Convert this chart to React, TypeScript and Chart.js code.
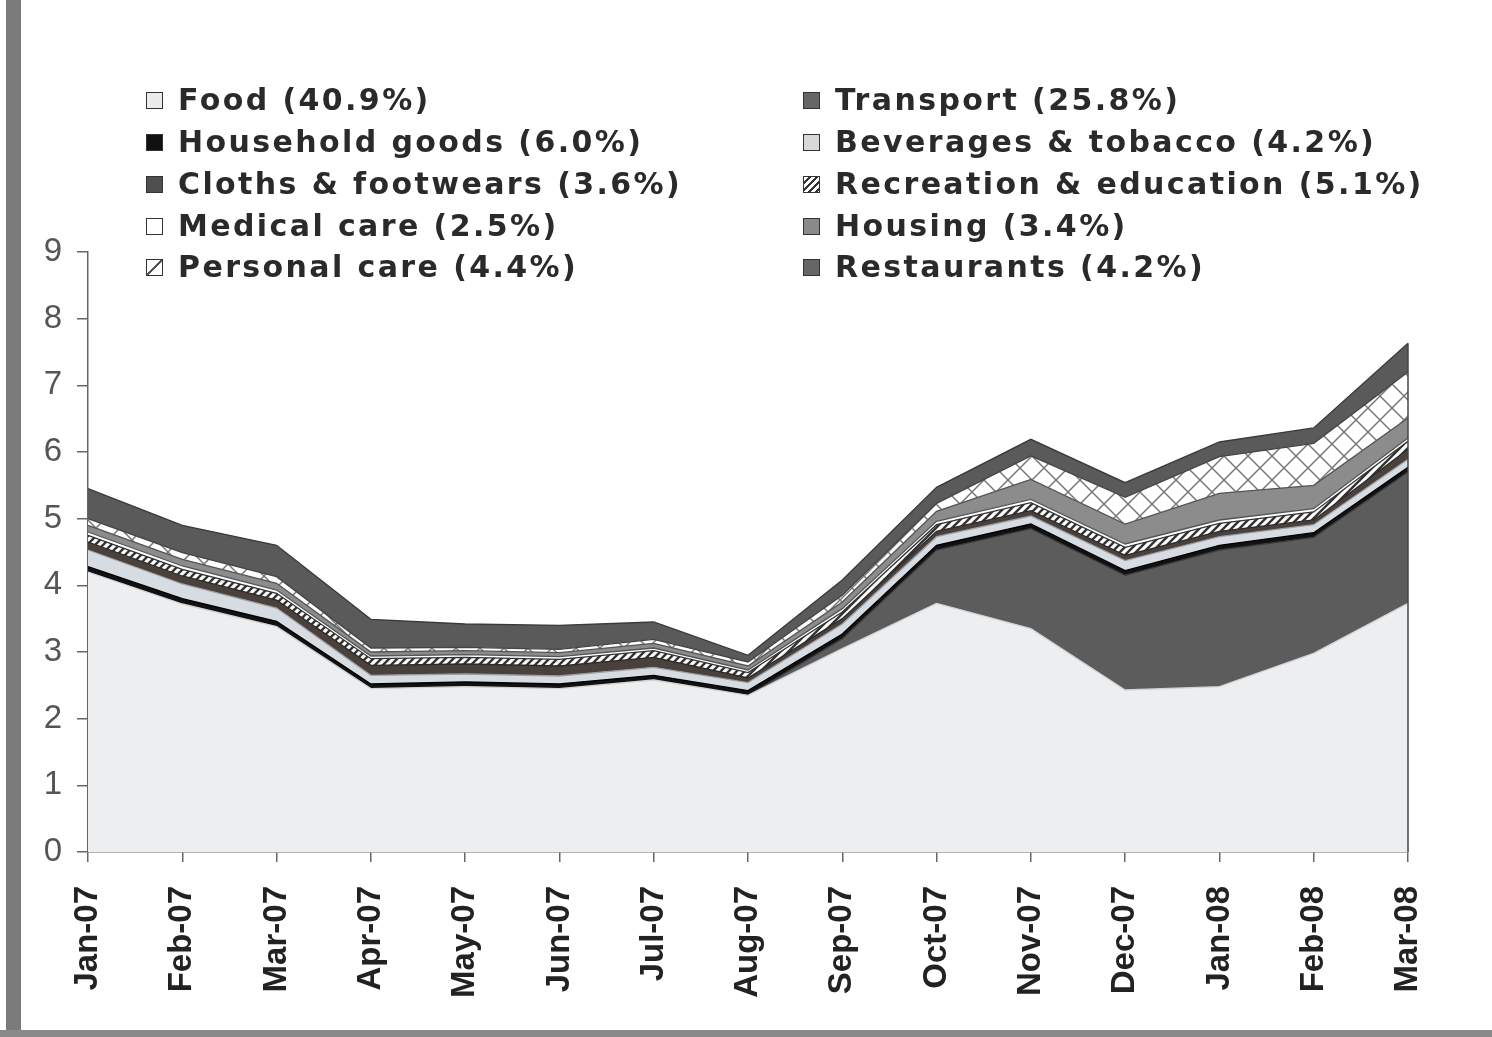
import React, { useEffect, useRef } from 'react';
import { Chart, registerables } from 'chart.js';
Chart.register(...registerables);

const months = ['Jan-07','Feb-07','Mar-07','Apr-07','May-07','Jun-07','Jul-07','Aug-07','Sep-07','Oct-07','Nov-07','Dec-07','Jan-08','Feb-08','Mar-08'];

const food = [4.2, 3.72, 3.38, 2.45, 2.48, 2.45, 2.58, 2.35, 3.05, 3.73, 3.35, 2.43, 2.48, 2.98, 3.73];
const transport = [0, 0, 0, 0, 0, 0, 0, 0, 0.15, 0.8, 1.5, 1.72, 2.05, 1.74, 1.97];
const household = [0.08, 0.08, 0.08, 0.07, 0.07, 0.07, 0.07, 0.07, 0.07, 0.07, 0.07, 0.07, 0.07, 0.07, 0.07];
const beverages = [0.25, 0.22, 0.2, 0.13, 0.12, 0.12, 0.12, 0.12, 0.15, 0.13, 0.12, 0.15, 0.13, 0.12, 0.12];
const cloths = [0.12, 0.12, 0.12, 0.15, 0.15, 0.15, 0.15, 0.07, 0.08, 0.08, 0.08, 0.08, 0.08, 0.07, 0.15];
const recreation = [0.1, 0.1, 0.1, 0.1, 0.1, 0.1, 0.1, 0.08, 0.1, 0.1, 0.12, 0.12, 0.12, 0.12, 0.12];
const medical = [0.05, 0.05, 0.05, 0.04, 0.04, 0.04, 0.04, 0.04, 0.05, 0.05, 0.05, 0.05, 0.05, 0.05, 0.05];
const housing = [0.1, 0.1, 0.1, 0.06, 0.06, 0.06, 0.07, 0.06, 0.1, 0.15, 0.3, 0.3, 0.4, 0.35, 0.3];
const personal = [0.1, 0.1, 0.1, 0.06, 0.05, 0.05, 0.06, 0.06, 0.1, 0.12, 0.35, 0.4, 0.55, 0.63, 0.69];
const restaurants = [0.45, 0.41, 0.47, 0.43, 0.35, 0.36, 0.26, 0.1, 0.23, 0.24, 0.25, 0.22, 0.22, 0.23, 0.43];

const yTicks = [0, 1, 2, 3, 4, 5, 6, 7, 8, 9];

const legendLeft = [
  { label: 'Food (40.9%)', swatch: '#ececec' },
  { label: 'Household goods (6.0%)', swatch: '#111' },
  { label: 'Cloths & footwears (3.6%)', swatch: '#4f4f4f' },
  { label: 'Medical care (2.5%)', swatch: '#fff' },
  { label: 'Personal care (4.4%)', swatch: 'linear-gradient(135deg, #fff 44%, #555 44%, #555 56%, #fff 56%)' },
];
const legendRight = [
  { label: 'Transport (25.8%)', swatch: '#666' },
  { label: 'Beverages & tobacco (4.2%)', swatch: '#d8d8d8' },
  { label: 'Recreation & education (5.1%)', swatch: 'repeating-linear-gradient(135deg, #fff 0 3px, #333 3px 5px)' },
  { label: 'Housing (3.4%)', swatch: '#8a8a8a' },
  { label: 'Restaurants (4.2%)', swatch: '#666' },
];
const rowCenters = [100, 142, 184, 226, 267];

function makePattern(size: number, bg: string, line: string, lw: number, cross: boolean) {
  const c = document.createElement('canvas');
  c.width = size; c.height = size;
  const g = c.getContext('2d')!;
  g.fillStyle = bg; g.fillRect(0, 0, size, size);
  g.strokeStyle = line; g.lineWidth = lw;
  g.beginPath();
  g.moveTo(-1, size + 1); g.lineTo(size + 1, -1);
  g.moveTo(-1, 1); g.lineTo(1, -1);
  g.moveTo(size - 1, size + 1); g.lineTo(size + 1, size - 1);
  if (cross) {
    g.moveTo(-1, -1); g.lineTo(size + 1, size + 1);
    g.moveTo(size - 1, -1); g.lineTo(size + 1, 1);
    g.moveTo(-1, size - 1); g.lineTo(1, size + 1);
  }
  g.stroke();
  return g.createPattern(c, 'repeat')!;
}

export default function App() {
  const ref = useRef<HTMLCanvasElement>(null);
  useEffect(() => {
    const ctx = ref.current!.getContext('2d')!;
    const recPat = makePattern(8, '#ffffff', '#333333', 2.4, false);
    const persPat = makePattern(24, '#ffffff', '#777777', 1.5, true);
    const series = [
      { label: 'Food', data: food, bg: '#eceef0', bc: '#d0d3d7' },
      { label: 'Transport', data: transport, bg: '#5c5c5c', bc: '#3a3a3a' },
      { label: 'Household goods', data: household, bg: '#111111', bc: '#000000' },
      { label: 'Beverages & tobacco', data: beverages, bg: '#d6dce2', bc: '#9aa0a6' },
      { label: 'Cloths & footwears', data: cloths, bg: '#4a403c', bc: '#2e2a28' },
      { label: 'Recreation & education', data: recreation, bg: recPat, bc: '#333333' },
      { label: 'Medical care', data: medical, bg: '#ffffff', bc: '#555555' },
      { label: 'Housing', data: housing, bg: '#8c8c8c', bc: '#555555' },
      { label: 'Personal care', data: personal, bg: persPat, bc: '#444444' },
      { label: 'Restaurants', data: restaurants, bg: '#5a5a5a', bc: '#3a3a3a' },
    ];
    const edgePlugin = {
      id: 'edge',
      afterDatasetsDraw(chart: any) {
        const last = months.length - 1;
        let total = 0;
        series.forEach((s) => { total += s.data[last]; });
        const x = chart.scales.x.getPixelForValue(last);
        const yTop = chart.scales.y.getPixelForValue(total);
        const y0 = chart.scales.y.getPixelForValue(0);
        const c = chart.ctx;
        c.save();
        c.strokeStyle = '#444';
        c.lineWidth = 1.5;
        c.beginPath(); c.moveTo(x, yTop); c.lineTo(x, y0); c.stroke();
        c.restore();
      },
    };
    const chart = new Chart(ctx, {
      type: 'line',
      data: {
        labels: months,
        datasets: series.map((s, i) => ({
          label: s.label,
          data: s.data,
          backgroundColor: s.bg as any,
          borderColor: s.bc,
          borderWidth: 1.3,
          fill: i === 0 ? 'origin' : '-1',
          pointRadius: 0,
          tension: 0,
        })),
      },
      options: {
        responsive: false,
        animation: false,
        devicePixelRatio: 1,
        layout: { padding: { top: 252, right: 84, left: 0, bottom: 0 } },
        plugins: { legend: { display: false }, tooltip: { enabled: false } },
        scales: {
          x: {
            type: 'category',
            offset: false,
            grid: { drawOnChartArea: false, drawTicks: true, tickLength: 10, color: '#666', lineWidth: 1.5 },
            border: { color: '#666', width: 1.5 },
            ticks: {
              autoSkip: false, minRotation: 90, maxRotation: 90, padding: 24,
              color: '#222', font: { family: 'Liberation Sans', size: 33, weight: 'bold' },
            },
            afterFit: (s: any) => { s.height = 185; },
          },
          y: {
            stacked: true,
            min: 0,
            max: 9,
            afterBuildTicks: (s: any) => { s.ticks = yTicks.map((v) => ({ value: v })); },
            ticks: { stepSize: 1, padding: 15, color: '#555', font: { family: 'Liberation Sans', size: 33 } },
            grid: { drawOnChartArea: false, drawTicks: true, tickLength: 11, color: '#666', lineWidth: 1.5 },
            border: { color: '#666', width: 1.5 },
            afterFit: (s: any) => { s.width = 88; },
          },
        },
      },
      plugins: [edgePlugin],
    });
    return () => chart.destroy();
  }, []);

  const renderLegend = (items: { label: string; swatch: string }[], swX: number, textX: number) =>
    items.map((it, i) => (
      <div key={it.label} style={{ position: 'absolute', left: swX, top: rowCenters[i] - 20, height: 40, display: 'flex', alignItems: 'center' }}>
        <div style={{ width: 17, height: 17, border: '1.5px solid #333', background: it.swatch, boxSizing: 'border-box' }} />
        <div style={{
          marginLeft: textX - swX - 17, fontFamily: 'DejaVu Sans', fontWeight: 'bold', fontSize: 30,
          letterSpacing: 2.4, color: '#2a2a2a', whiteSpace: 'nowrap', lineHeight: '40px',
        }}>{it.label}</div>
      </div>
    ));

  return (
    <div style={{ position: 'fixed', left: 0, top: 0, width: 1492, height: 1037, background: '#fff', overflow: 'hidden' }}>
      <canvas ref={ref} width={1492} height={1037} style={{ position: 'absolute', left: 0, top: 0, width: 1492, height: 1037 }} />
      <div style={{ position: 'absolute', left: 6, top: 0, width: 15, height: 1037, background: '#7b7b7b' }} />
      <div style={{ position: 'absolute', left: 0, top: 1030, width: 1492, height: 7, background: '#8a8a8a' }} />
      {renderLegend(legendLeft, 146, 178)}
      {renderLegend(legendRight, 803, 835)}
    </div>
  );
}
